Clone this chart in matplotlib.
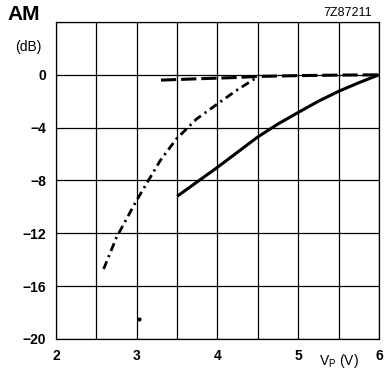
import numpy as np
import matplotlib.pyplot as plt

plt.rcParams['font.family'] = ['Liberation Sans', 'DejaVu Sans']

# curva continua
vp_solid = [3.5, 3.75, 4.0, 4.25, 4.5, 4.75, 5.0, 5.25, 5.5, 5.75, 6.0]
am_solid = [-9.2, -8.1, -7.0, -5.85, -4.7, -3.72, -2.85, -2.0, -1.25, -0.6, 0.0]

# curva punto-raya
vp_dashdot = [2.59, 2.75, 2.99, 3.14, 3.29, 3.49, 3.74, 4.0, 4.24, 4.5]
am_dashdot = [-14.7, -12.3, -9.6, -8.05, -6.5, -4.86, -3.35, -2.2, -1.16, -0.15]

# curva a trazos
vp_dashed = [3.3, 3.75, 4.25, 4.5, 5.0, 5.5, 6.0]
am_dashed = [-0.4, -0.3, -0.2, -0.12, -0.06, -0.02, 0.0]

# punto suelto
vp_dot = [3.03]
am_dot = [-18.5]

fig = plt.figure(figsize=(3.9, 3.71), dpi=100)
ax = fig.add_axes([0.1436, 0.0863, 0.828, 0.8544])

ax.plot(vp_solid, am_solid, color='black', lw=2.2, solid_capstyle='butt')
ax.plot(vp_dashdot, am_dashdot, color='black', lw=2.0, dashes=(3, 1.6, 0.8, 1.6))
ax.plot(vp_dashed, am_dashed, color='black', lw=2.2, dashes=(5, 1.6))
ax.plot(vp_dot, am_dot, 'o', color='black', ms=2)

xgrid = np.arange(2, 6.01, 0.5)
ygrid = np.arange(-20, 4.01, 4)
ax.set_xlim(2, 6)
ax.set_ylim(-20, 4)
ax.set_xticks(xgrid)
ax.set_yticks(ygrid)
ax.grid(True, color='black', lw=0.9)
ax.set_xticklabels([str(int(v)) if v == int(v) else '' for v in xgrid])
ax.set_yticklabels([str(int(v)).replace('-', '\u2212') if v <= 0 else '' for v in ygrid])
ax.tick_params(length=0, labelsize=10, pad=7)
for lab in ax.get_xticklabels() + ax.get_yticklabels():
    lab.set_fontweight('bold')
for s in ax.spines.values():
    s.set_linewidth(0.9)

fig.text(0.02, 0.935, 'AM', fontsize=15, fontweight='bold', va='bottom')
fig.text(0.038, 0.873, '(dB)', fontsize=10, va='center')
fig.text(0.955, 0.95, '7Z87211', fontsize=9, ha='right', va='bottom')
ax.text(5.5, -21.7, r'$\mathregular{V_P}$ (V)', fontsize=10, ha='center', va='center')

fig.savefig('out.png', dpi=100)
